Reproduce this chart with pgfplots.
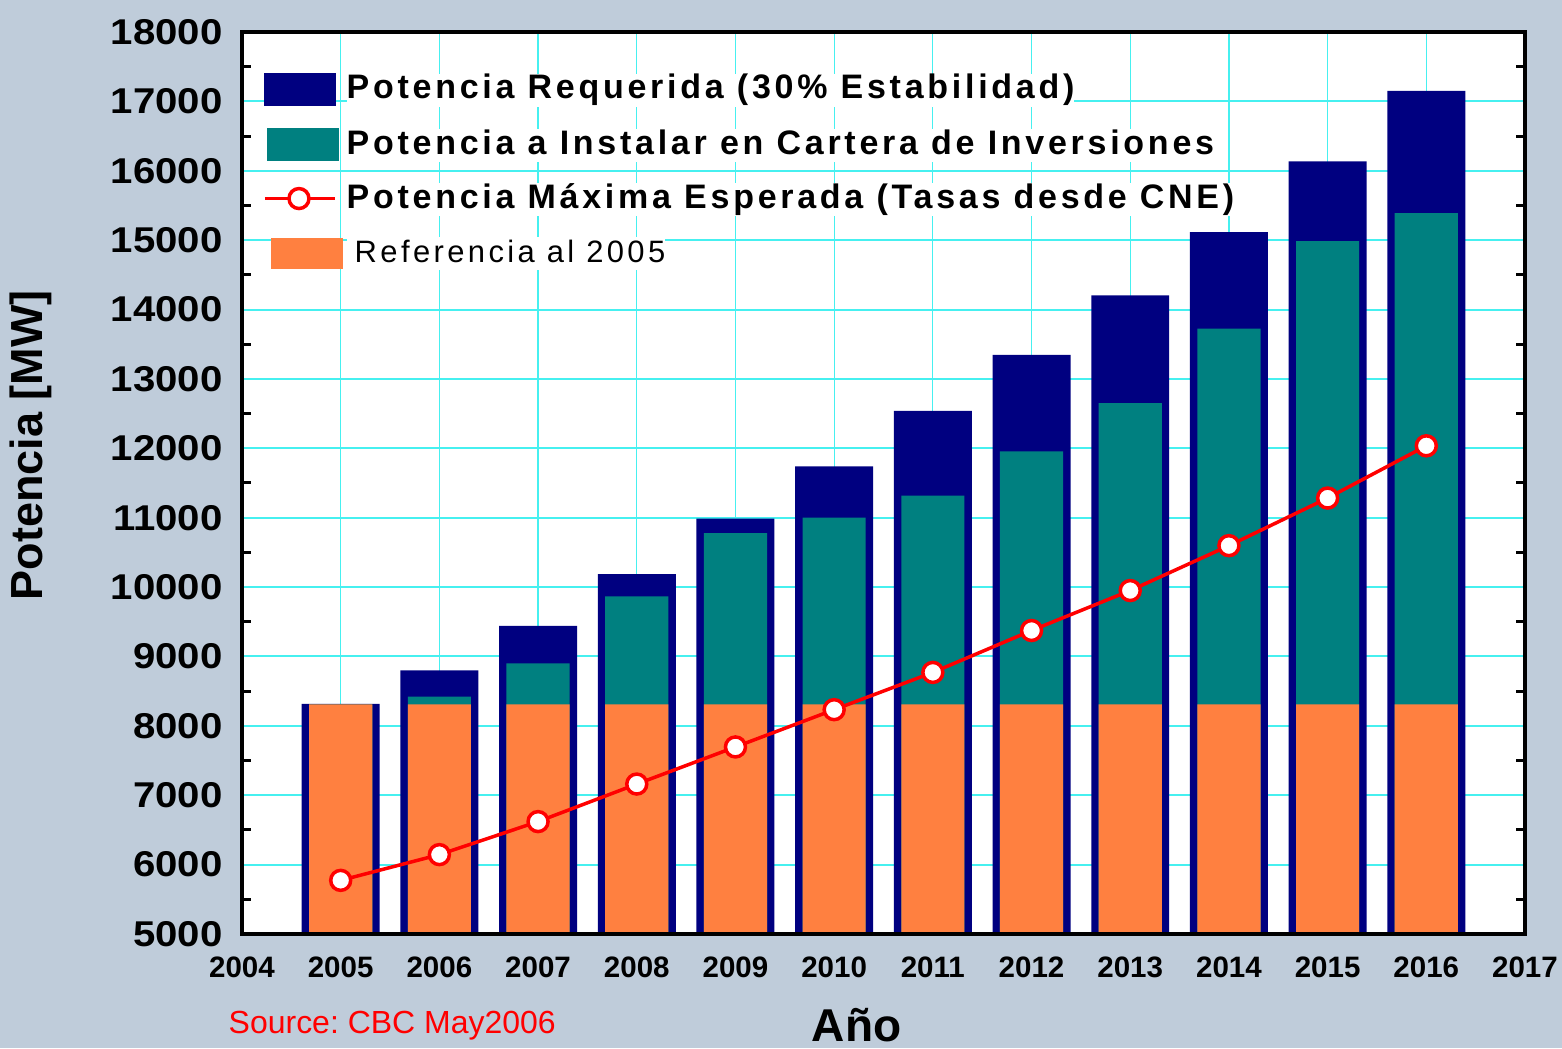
\documentclass[border=0pt]{standalone}
\usepackage{pgfplots}
\pgfplotsset{compat=1.18}
\usepackage{fontspec}
\setmainfont{Liberation Sans}
\newfontfamily\legfont{Liberation Sans}[LetterSpace=11]
\newfontfamily\yfont{Liberation Sans}[FakeStretch=1.12]
\definecolor{bgc}{RGB}{191,204,218}
\definecolor{navyc}{RGB}{0,0,128}
\definecolor{tealc}{RGB}{0,128,128}
\definecolor{orangec}{RGB}{255,128,64}
\definecolor{gridc}{RGB}{70,240,240}
\frenchspacing
\begin{document}
\begin{tikzpicture}
\useasboundingbox (-24.2mm,-11.4mm) rectangle (132.0mm,93.4mm);
\fill[bgc] (-24.2mm,-11.4mm) rectangle (132.0mm,93.4mm);
\begin{axis}[
  at={(0,0)}, anchor=south west,
  scale only axis, width=128.3mm, height=90.2mm,
  xmin=2004, xmax=2017, ymin=5000, ymax=18000,
  xtick={2004,2005,...,2017}, ytick={5000,6000,...,18000},
  minor x tick num=1, minor y tick num=1,
  major tick length=0pt, minor tick length=0.9mm,
  tick align=inside, tick style={black, line width=0.3mm},
  grid=major,
  x grid style={gridc, line width=0.12mm},
  y grid style={gridc, line width=0.2mm},
  axis line style={line width=0.4mm},
  axis background/.style={fill=white},
  scaled ticks=false,
  /pgf/number format/1000 sep={},
  /pgf/number format/assume math mode=true,
  xticklabel style={font=\fontsize{8.4}{9}\selectfont\bfseries, yshift=-1.0mm},
  yticklabel style={font=\yfont\fontsize{10.2}{11}\selectfont\bfseries, xshift=-0.7mm},
  xlabel={Año},
  xlabel style={at={(rel axis cs:0.479,-0.119)}, anchor=base, font=\fontsize{13.1}{14}\selectfont\bfseries},
  ylabel={Potencia [MW]},
  ylabel style={at={(rel axis cs:-0.1645,0.542)}, anchor=center, font=\fontsize{12.8}{14}\selectfont\bfseries},
  legend style={at={(rel axis cs:0.0078,0.9635)}, anchor=north west, draw=none, fill=none,
    row sep=2.1mm, column sep=0.4mm,
    nodes={fill=white, inner sep=0pt, text height=2.5mm, text depth=0.8mm},
    font=\legfont\fontsize{9.67}{11}\selectfont\bfseries},
  legend cell align=left,
]
\addlegendimage{legend image code/.code={\fill[navyc] (0mm,-1.5mm) rectangle (7mm,1.7mm);}}
\addlegendentry{Potencia Requerida (30\% Estabilidad)}
\addlegendimage{legend image code/.code={\fill[tealc] (0.3mm,-1.5mm) rectangle (7.3mm,1.7mm);}}
\addlegendentry{Potencia a Instalar en Cartera de Inversiones}
\addlegendimage{legend image code/.code={\draw[red, line width=0.35mm] (0mm,0.1mm) -- (7mm,0.1mm); \draw[red, fill=white, line width=0.35mm] (3.4mm,0.1mm) circle (1mm);}}
\addlegendentry{Potencia Máxima Esperada (Tasas desde CNE)}
\addlegendimage{legend image code/.code={\fill[orangec] (0.7mm,-1.5mm) rectangle (7.7mm,1.5mm);}}
\addlegendentry{\mdseries\fontsize{8.8}{11}\selectfont\hspace{0.8mm}Referencia al 2005}

% Potencia Requerida (30% Estabilidad)
\addplot[ybar, bar width=0.79, bar shift=0pt, fill=navyc, draw=none, forget plot] coordinates {
(2005,8315) (2006,8800) (2007,9440) (2008,10185) (2009,10986) (2010,11740)
(2011,12540) (2012,13345) (2013,14204) (2014,15115) (2015,16137) (2016,17150)};
% Potencia a Instalar en Cartera de Inversiones
\addplot[ybar, bar width=0.64, bar shift=0pt, fill=tealc, draw=none, forget plot] coordinates {
(2005,8310) (2006,8422) (2007,8899) (2008,9865) (2009,10778) (2010,11000)
(2011,11317) (2012,11954) (2013,12650) (2014,13724) (2015,14986) (2016,15388)};
% Referencia al 2005
\addplot[ybar, bar width=0.64, bar shift=0pt, fill=orangec, draw=none, forget plot] coordinates {
(2005,8310) (2006,8310) (2007,8310) (2008,8310) (2009,8310) (2010,8310)
(2011,8310) (2012,8310) (2013,8310) (2014,8310) (2015,8310) (2016,8310)};
% Potencia Maxima Esperada
\addplot[red, line width=0.35mm, mark=*, mark size=1.0mm, mark options={fill=white, draw=red, line width=0.35mm}, forget plot] coordinates {
(2005,5773) (2006,6144) (2007,6620) (2008,7161) (2009,7696) (2010,8233)
(2011,8770) (2012,9374) (2013,9950) (2014,10597) (2015,11283) (2016,12036)};
\end{axis}
\draw[line width=0.4mm] (current axis.south west) rectangle (current axis.north east);
\node[anchor=base west, inner sep=0pt, text=red, font=\fontsize{9.1}{11}\selectfont] at (-1.4mm,-9.9mm) {Source: CBC May2006};
\end{tikzpicture}
\end{document}
